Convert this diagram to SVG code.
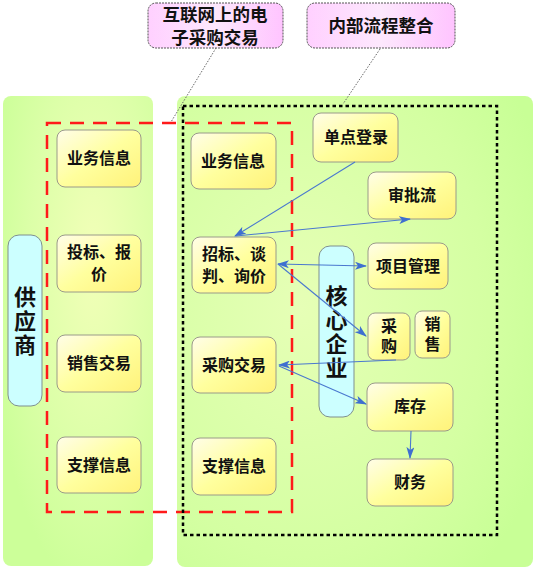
<svg xmlns="http://www.w3.org/2000/svg" width="537" height="571" viewBox="0 0 537 571">
<defs>
<linearGradient id="nodeG" x1="0" y1="0" x2="1" y2="1">
<stop offset="0" stop-color="#fffde8"/>
<stop offset="0.5" stop-color="#ffff9e"/>
<stop offset="1" stop-color="#fff27a"/>
</linearGradient>
<linearGradient id="pinkG" x1="0" y1="0" x2="1" y2="0">
<stop offset="0" stop-color="#ffd0ff"/>
<stop offset="0.5" stop-color="#fde8fd"/>
<stop offset="1" stop-color="#ffc4ff"/>
</linearGradient>
<radialGradient id="leftG" cx="0.6" cy="0.35" r="0.7">
<stop offset="0" stop-color="#f2ffb8"/>
<stop offset="0.6" stop-color="#dcffa8"/>
<stop offset="1" stop-color="#ccff99"/>
</radialGradient>
<radialGradient id="rightG" cx="0.35" cy="0.45" r="0.75">
<stop offset="0" stop-color="#e6ffb6"/>
<stop offset="0.7" stop-color="#d4ffa2"/>
<stop offset="1" stop-color="#c8ff96"/>
</radialGradient>
<marker id="ah" viewBox="0 0 12 8" refX="11" refY="4" markerWidth="12" markerHeight="8" markerUnits="userSpaceOnUse" orient="auto-start-reverse">
<path d="M0,0 L12,4 L0,8 L3,4 Z" fill="#3f6fd0"/>
</marker>
<style>
.node{fill:url(#nodeG);stroke:#9a9a8a;stroke-width:1}
.pill{fill:#ccffff;stroke:#7f8f8f;stroke-width:1}
.call{fill:url(#pinkG);stroke:#555;stroke-width:1;stroke-dasharray:2 1}
.t{font-family:"Noto Sans CJK SC","Noto Sans CJK JP",sans-serif;font-weight:bold;fill:#111;text-anchor:middle}
.n{font-size:16px}
.v{writing-mode:vertical-rl;letter-spacing:4px}
.c{font-size:17.5px}
.b{font-size:22px;writing-mode:vertical-rl;letter-spacing:2px}
.con{stroke:#4a78cf;stroke-width:1.1;fill:none}
</style>
</defs>

<g id="panels">
<rect x="3" y="96" width="150" height="470" rx="8" fill="url(#leftG)"/>
<rect x="177" y="96" width="356" height="471" rx="8" fill="url(#rightG)"/>
</g>

<g id="frames">
<rect x="47" y="123" width="245" height="389" fill="none" stroke="#ff1a1a" stroke-width="2.5" stroke-dasharray="14 9"/>
<rect x="183" y="106" width="314" height="429" fill="none" stroke="#000" stroke-width="2.5" stroke-dasharray="3.5 3"/>
</g>

<g id="callout-ecommerce">
<rect class="call" x="148" y="3" width="135" height="45" rx="8"/>
<text class="t c"><tspan x="215" y="20.5">互联网上的电</tspan><tspan x="215" y="44">子采购交易</tspan></text>
</g>
<g id="callout-internal">
<rect class="call" x="307" y="3" width="148" height="45" rx="8"/>
<text class="t c" x="381" y="32">内部流程整合</text>
</g>

<g id="leaders" stroke="#666" stroke-width="1" stroke-dasharray="1.5 1.5" fill="none">
<line x1="216" y1="48" x2="171" y2="122"/>
<line x1="380" y1="49" x2="343" y2="104"/>
</g>

<g id="supplier">
<rect class="pill" x="8" y="235" width="34" height="171" rx="11"/>
<text class="t b" x="25" y="322">供应商</text>
</g>

<g id="s-biz"><rect class="node" x="57" y="130" width="84" height="57" rx="8"/><text class="t n" x="99" y="164">业务信息</text></g>
<g id="s-bid"><rect class="node" x="57" y="235" width="84" height="57" rx="8"/><text class="t n"><tspan x="99" y="258">投标、报</tspan><tspan x="99" y="280">价</tspan></text></g>
<g id="s-sale"><rect class="node" x="57" y="335" width="84" height="57" rx="8"/><text class="t n" x="99" y="369">销售交易</text></g>
<g id="s-sup"><rect class="node" x="57" y="437" width="84" height="56" rx="8"/><text class="t n" x="99" y="471">支撑信息</text></g>

<g id="core">
<rect class="pill" x="319" y="246" width="35" height="171" rx="11"/>
<text class="t b" x="336.5" y="333">核心企业</text>
</g>

<g id="e-biz"><rect class="node" x="191" y="133" width="85" height="56" rx="8"/><text class="t n" x="233" y="167">业务信息</text></g>
<g id="e-bid"><rect class="node" x="192" y="237" width="84" height="56" rx="8"/><text class="t n"><tspan x="234" y="260">招标、谈</tspan><tspan x="234" y="282">判、询价</tspan></text></g>
<g id="e-pur"><rect class="node" x="192" y="337" width="84" height="56" rx="8"/><text class="t n" x="234" y="371">采购交易</text></g>
<g id="e-sup"><rect class="node" x="192" y="438" width="84" height="57" rx="8"/><text class="t n" x="234" y="472">支撑信息</text></g>

<g id="sso"><rect class="node" x="313" y="113" width="85" height="49" rx="8"/><text class="t n" x="356" y="143">单点登录</text></g>
<g id="approve"><rect class="node" x="368" y="172" width="88" height="47" rx="8"/><text class="t n" x="412" y="201">审批流</text></g>
<g id="project"><rect class="node" x="368" y="243" width="80" height="46" rx="8"/><text class="t n" x="408" y="272">项目管理</text></g>
<g id="buy"><rect class="node" x="368" y="313" width="42" height="47" rx="7"/><text class="t n v" x="389" y="338">采购</text></g>
<g id="sell"><rect class="node" x="415" y="311" width="35" height="47" rx="7"/><text class="t n v" x="432.5" y="336">销售</text></g>
<g id="stock"><rect class="node" x="367" y="383" width="86" height="48" rx="8"/><text class="t n" x="410" y="412">库存</text></g>
<g id="finance"><rect class="node" x="367" y="459" width="86" height="47" rx="8"/><text class="t n" x="410" y="488">财务</text></g>

<g id="connectors">
<line class="con" x1="355" y1="162" x2="235" y2="236" marker-end="url(#ah)"/>
<line class="con" x1="236" y1="236" x2="410" y2="219" marker-end="url(#ah)"/>
<line class="con" x1="278" y1="264" x2="366" y2="266" marker-start="url(#ah)" marker-end="url(#ah)"/>
<line class="con" x1="278" y1="264" x2="366" y2="336" marker-end="url(#ah)"/>
<line class="con" x1="396" y1="360" x2="279" y2="365" marker-end="url(#ah)"/>
<line class="con" x1="279" y1="366" x2="366" y2="404" marker-end="url(#ah)"/>
<line class="con" x1="411" y1="431" x2="410" y2="458" marker-end="url(#ah)"/>
</g>
</svg>
